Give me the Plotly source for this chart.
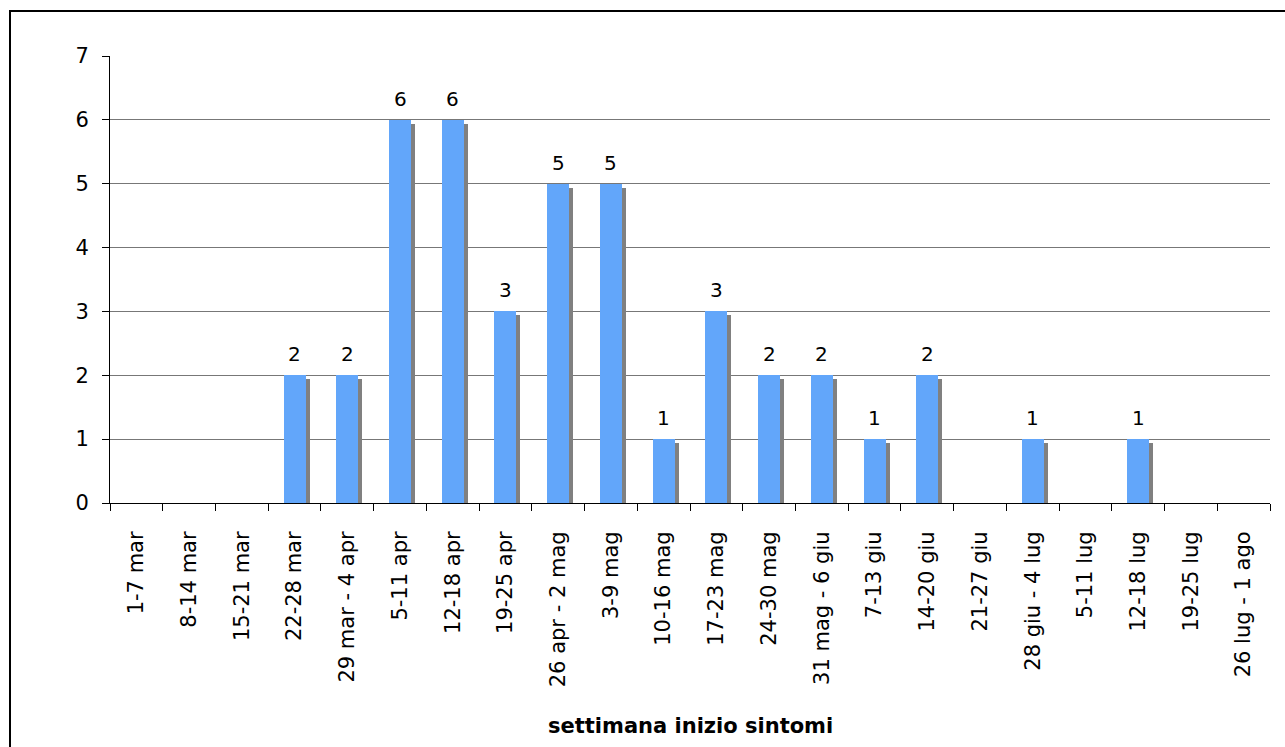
import plotly.graph_objects as go

categories = [
    "1-7 mar", "8-14 mar", "15-21 mar", "22-28 mar", "29 mar - 4 apr",
    "5-11 apr", "12-18 apr", "19-25 apr", "26 apr - 2 mag", "3-9 mag",
    "10-16 mag", "17-23 mag", "24-30 mag", "31 mag - 6 giu", "7-13 giu",
    "14-20 giu", "21-27 giu", "28 giu - 4 lug", "5-11 lug", "12-18 lug",
    "19-25 lug", "26 lug - 1 ago",
]
cases = [0, 0, 0, 2, 2, 6, 6, 3, 5, 5, 1, 3, 2, 2, 1, 2, 0, 1, 0, 1, 0, 0]
y_ticks = [0, 1, 2, 3, 4, 5, 6, 7]
x_title = "settimana inizio sintomi"

W, H = 1285, 747
ML, MR, MT, MB = 110, 15, 56, 244
plot_w = W - ML - MR
plot_h = H - MT - MB
y_max = 7
n = len(categories)
px_per_cat = plot_w / n
px_per_unit = plot_h / y_max

bar_w = 22 / px_per_cat
sh_dx = 4 / px_per_cat
sh_dy = 4 / px_per_unit

BLUE = "#62a6fa"
SHADOW = "#808080"
FONT = "DejaVu Sans"

fig = go.Figure()
# shadow
fig.add_trace(go.Bar(
    x=categories, y=[max(v - sh_dy, 0) if v > 0 else 0 for v in cases],
    width=bar_w, offset=-bar_w / 2 + sh_dx,
    marker=dict(color=SHADOW, line=dict(width=0)),
    hoverinfo="skip", showlegend=False,
))
fig.add_trace(go.Bar(
    x=categories, y=cases,
    width=bar_w, offset=-bar_w / 2,
    marker=dict(color=BLUE, line=dict(width=0)),
    showlegend=False,
))

annotations = []
for c, v in zip(categories, cases):
    if v > 0:
        annotations.append(dict(
            x=c, y=v, xref="x", yref="y", text=str(v), showarrow=False,
            yanchor="middle", yshift=21,
            font=dict(family=FONT, size=20, color="#000000"),
        ))

annotations.append(dict(
    x=0.5, y=-(726 - (H - MB)) / plot_h, xref="paper", yref="paper",
    text="<b>" + x_title + "</b>", showarrow=False,
    xanchor="center", yanchor="middle",
    font=dict(family=FONT, size=21, color="#000000"),
))


def px_x(p):
    return (p - ML) / plot_w


def px_y(p):
    return (H - MB - p) / plot_h


shapes = [dict(
    type="rect", xref="paper", yref="paper",
    x0=px_x(10), x1=px_x(W + 20), y0=px_y(H + 20), y1=px_y(11),
    line=dict(color="#000000", width=2), fillcolor="rgba(0,0,0,0)",
    layer="above",
)]

fig.update_layout(
    width=W, height=H,
    margin=dict(l=ML, r=MR, t=MT, b=MB, pad=0),
    barmode="overlay",
    bargap=0,
    paper_bgcolor="#ffffff",
    plot_bgcolor="#ffffff",
    font=dict(family=FONT, size=21, color="#000000"),
    annotations=annotations,
    shapes=shapes,
    showlegend=False,
)
fig.update_xaxes(
    type="category",
    categoryorder="array", categoryarray=categories,
    tickangle=-90,
    ticks="outside", ticklen=7, tickcolor="#000000", tickwidth=1,
    tickson="boundaries",
    showline=True, linecolor="#000000", linewidth=1,
    showgrid=False,
    tickfont=dict(family=FONT, size=21, color="#000000"),
    ticklabelstandoff=19,
    range=[-0.5, n - 0.5],
)
fig.update_yaxes(
    range=[0, y_max],
    tickvals=y_ticks,
    ticks="outside", ticklen=7, tickcolor="#000000", tickwidth=1,
    showline=True, linecolor="#000000", linewidth=1,
    showgrid=True, gridcolor="#777777", gridwidth=1,
    zeroline=False,
    tickfont=dict(family=FONT, size=21, color="#000000"),
    ticklabelstandoff=9,
)

fig.write_html("out.html")
